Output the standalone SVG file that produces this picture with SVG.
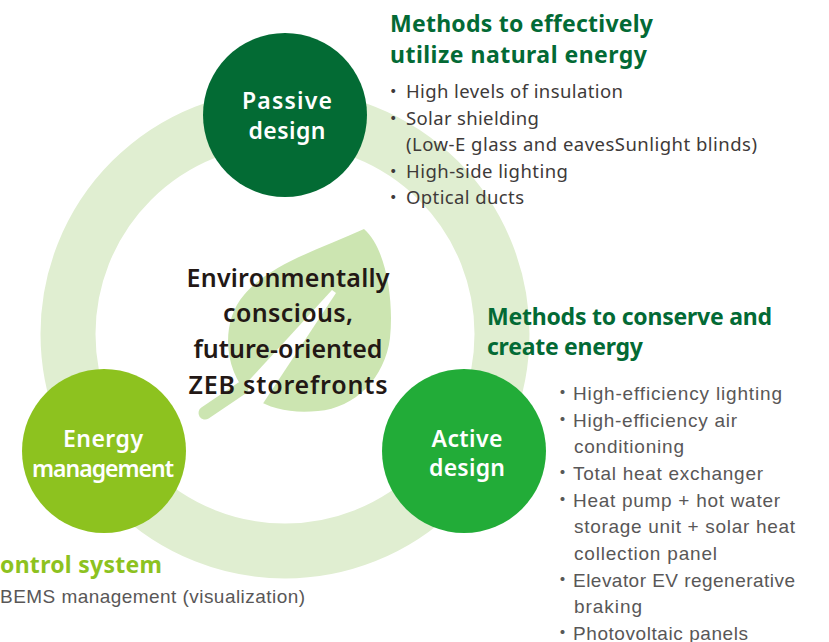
<svg xmlns="http://www.w3.org/2000/svg" width="829" height="642" viewBox="0 0 829 642">
<style>
.node-label{font-family:"Noto Sans","DejaVu Sans",sans-serif;font-size:23px;font-weight:600;fill:#ffffff;text-anchor:middle}
.head{font-family:"Noto Sans","DejaVu Sans",sans-serif;font-size:23px;font-weight:700;fill:#036a35}
.center{font-family:"Noto Sans","DejaVu Sans",sans-serif;font-size:25px;font-weight:600;fill:#231815}
.list1{font-family:"Noto Sans","DejaVu Sans",sans-serif;font-size:18.5px;fill:#3e3a39}
.list2{font-family:"Liberation Sans",Arial,sans-serif;font-size:19px;fill:#595757}
.bul{font-family:"Noto Sans CJK JP",sans-serif}
</style>
<rect width="829" height="642" fill="#ffffff"/>
<g id="connectors">
<circle cx="285" cy="334" r="217" fill="none" stroke="#e0eed1" stroke-width="55"/>
</g>
<g id="leaf">
<path d="M364,229 C386,248 394,300 390,338 C385,378 355,408 318,411 C290,414 268,408 250,396 C224,372 220,322 244,295 C270,264 318,250 364,229 Z" fill="#cce5b1"/>
<polygon points="332,290 336,293 262,405 244,412 242,388" fill="#ffffff"/>
<line x1="242" y1="388" x2="205" y2="413" stroke="#cce5b1" stroke-width="13" stroke-linecap="round"/>
</g>
<g id="center-text">
<text class="center" x="288" y="287" text-anchor="middle" textLength="203">Environmentally</text>
<text class="center" x="288" y="322" text-anchor="middle" textLength="130">conscious,</text>
<text class="center" x="288" y="358" text-anchor="middle" textLength="189">future-oriented</text>
<text class="center" x="288" y="394" text-anchor="middle" textLength="199">ZEB storefronts</text>
</g>
<g id="passive">
<circle cx="285" cy="115" r="82" fill="#036b34"/>
<text class="node-label" x="287" y="109" textLength="90">Passive</text>
<text class="node-label" x="287" y="139" textLength="77">design</text>
</g>
<g id="energy">
<circle cx="104" cy="451" r="82" fill="#8dc21f"/>
<text class="node-label" x="103" y="447" textLength="80">Energy</text>
<text class="node-label" x="103" y="477" textLength="142">management</text>
</g>
<g id="active">
<circle cx="464" cy="451" r="82" fill="#22ac38"/>
<text class="node-label" x="467" y="447" textLength="71">Active</text>
<text class="node-label" x="467" y="476" textLength="76">design</text>
</g>
<g id="passive-notes">
<text class="head" x="390" y="32" textLength="263">Methods to effectively</text>
<text class="head" x="390" y="63" textLength="257">utilize natural energy</text>
<text class="list1" x="384" y="98"><tspan class="bul">・</tspan><tspan x="406" textLength="217">High levels of insulation</tspan></text>
<text class="list1" x="384" y="125"><tspan class="bul">・</tspan><tspan x="406" textLength="133">Solar shielding</tspan></text>
<text class="list1" x="406" y="151" textLength="351">(Low-E glass and eavesSunlight blinds)</text>
<text class="list1" x="384" y="178"><tspan class="bul">・</tspan><tspan x="406" textLength="162">High-side lighting</tspan></text>
<text class="list1" x="384" y="204"><tspan class="bul">・</tspan><tspan x="406" textLength="118">Optical ducts</tspan></text>
</g>
<g id="active-notes">
<text class="head" x="487" y="325" textLength="285">Methods to conserve and</text>
<text class="head" x="487" y="355" textLength="156">create energy</text>
<text class="list2" x="553" y="400"><tspan class="bul">・</tspan><tspan x="573" textLength="209">High-efficiency lighting</tspan></text>
<text class="list2" x="553" y="427"><tspan class="bul">・</tspan><tspan x="573" textLength="164">High-efficiency air</tspan></text>
<text class="list2" x="574" y="453" textLength="110">conditioning</text>
<text class="list2" x="553" y="480"><tspan class="bul">・</tspan><tspan x="573" textLength="190">Total heat exchanger</tspan></text>
<text class="list2" x="553" y="507"><tspan class="bul">・</tspan><tspan x="573" textLength="207">Heat pump + hot water</tspan></text>
<text class="list2" x="574" y="533" textLength="221">storage unit + solar heat</text>
<text class="list2" x="574" y="560" textLength="143">collection panel</text>
<text class="list2" x="553" y="587"><tspan class="bul">・</tspan><tspan x="573" textLength="222">Elevator EV regenerative</tspan></text>
<text class="list2" x="574" y="613" textLength="68">braking</text>
<text class="list2" x="553" y="640"><tspan class="bul">・</tspan><tspan x="573" textLength="175">Photovoltaic panels</tspan></text>
</g>
<g id="energy-notes">
<text class="head" x="0" y="573" style="fill:#8dc21f" textLength="162">ontrol system</text>
<text class="list2" x="0" y="603" textLength="305">BEMS management (visualization)</text>
</g>
</svg>
